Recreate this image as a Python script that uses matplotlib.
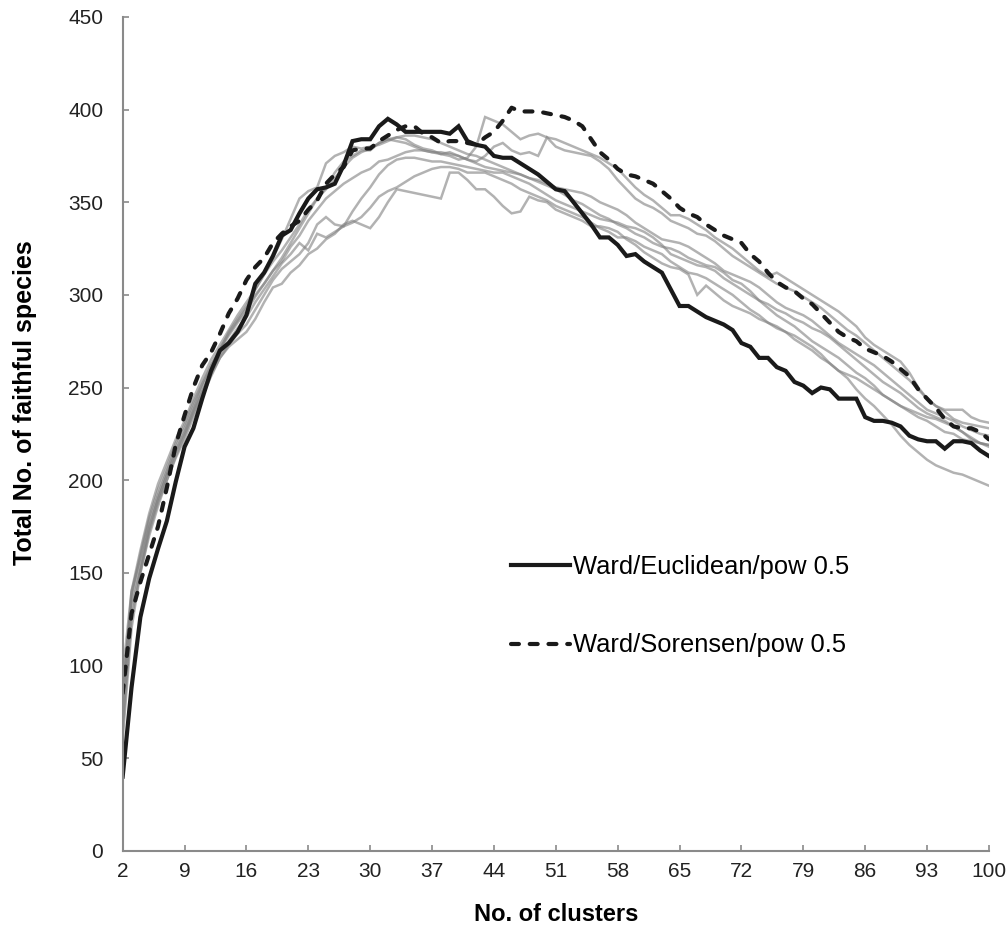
import numpy as np
import matplotlib
matplotlib.use("Agg")
import matplotlib.pyplot as plt

plt.rcParams['font.family'] = ['Liberation Sans', 'DejaVu Sans']

# categories: number of clusters
clusters = list(range(2, 101))

# Ward/Euclidean/pow 0.5 (solid black)
ward_euclid = [
    40, 88, 126, 147, 163, 178, 199, 218, 228, 244,
    259, 270, 274, 280, 289, 306, 312, 321, 332, 335,
    344, 352, 357, 358, 360, 370, 383, 384, 384, 391,
    395, 392, 388, 388, 388, 388, 388, 387, 391, 383,
    381, 380, 375, 374, 374, 371, 368, 365, 361, 357,
    356, 350, 344, 338, 331, 331, 327, 321, 322, 318,
    315, 312, 303, 294, 294, 291, 288, 286, 284, 281,
    274, 272, 266, 266, 261, 259, 253, 251, 247, 250,
    249, 244, 244, 244, 234, 232, 232, 231, 229, 224,
    222, 221, 221, 217, 221, 221, 220, 216, 213]

# Ward/Sorensen/pow 0.5 (dashed black)
ward_soren = [
    85, 128, 145, 160, 175, 196, 219, 235, 250, 262,
    269, 279, 290, 298, 308, 315, 320, 328, 333, 337,
    340, 346, 351, 360, 365, 369, 378, 379, 379, 383,
    386, 389, 391, 391, 387, 385, 382, 383, 383, 382,
    381, 385, 388, 394, 401, 399, 399, 399, 398, 397,
    396, 394, 391, 384, 377, 373, 368, 365, 364, 362,
    360, 356, 352, 347, 344, 342, 338, 335, 332, 330,
    328, 322, 318, 312, 307, 304, 302, 298, 295, 290,
    285, 280, 277, 275, 271, 269, 267, 264, 260, 256,
    249, 244, 239, 233, 229, 228, 228, 226, 222]

# other clustering combinations (grey)
grey_a = [
    95, 140, 158, 178, 192, 205, 218, 228, 240, 252,
    262, 270, 280, 287, 294, 303, 311, 320, 330, 341,
    352, 356, 358, 371, 375, 377, 380, 379, 380, 381,
    383, 385, 384, 381, 379, 378, 376, 375, 373, 374,
    380, 396, 394, 392, 388, 384, 386, 387, 385, 384,
    382, 380, 378, 376, 374, 371, 368, 363, 358, 354,
    351, 347, 343, 343, 341, 338, 335, 331, 328, 325,
    321, 317, 313, 310, 312, 309, 306, 303, 300, 297,
    294, 291, 287, 283, 277, 273, 270, 267, 264, 258,
    250, 244, 240, 238, 238, 238, 234, 232, 231]
grey_b = [
    88, 135, 155, 175, 190, 203, 216, 226, 238, 250,
    260, 270, 278, 285, 291, 299, 306, 313, 320, 328,
    336, 344, 352, 358, 366, 372, 375, 378, 378, 382,
    384, 383, 382, 380, 378, 377, 376, 377, 375, 373,
    372, 375, 380, 382, 378, 376, 377, 375, 385, 380,
    378, 377, 376, 375, 372, 368, 362, 357, 352, 349,
    347, 344, 340, 338, 336, 333, 332, 329, 325, 321,
    318, 315, 312, 309, 306, 304, 302, 299, 296, 293,
    289, 285, 281, 278, 274, 270, 266, 262, 258, 254,
    249, 244, 240, 237, 233, 231, 230, 229, 228]
grey_c = [
    60, 120, 150, 172, 188, 200, 212, 222, 234, 245,
    256, 266, 272, 276, 280, 287, 296, 304, 306, 312,
    316, 322, 325, 330, 333, 338, 340, 338, 336, 342,
    350, 357, 356, 355, 354, 353, 352, 366, 366, 362,
    357, 357, 353, 348, 344, 345, 353, 351, 350, 346,
    344, 342, 340, 337, 337, 336, 334, 330, 327, 323,
    320, 317, 315, 314, 311, 300, 305, 301, 297, 294,
    292, 290, 287, 285, 283, 280, 276, 273, 270, 266,
    263, 259, 257, 255, 252, 249, 246, 243, 240, 237,
    234, 232, 229, 226, 225, 222, 221, 220, 219]
grey_d = [
    70, 130, 152, 174, 190, 203, 215, 225, 237, 248,
    258, 268, 275, 282, 288, 296, 303, 310, 317, 322,
    328, 324, 333, 331, 334, 337, 339, 342, 347, 353,
    356, 358, 361, 364, 366, 368, 369, 369, 368, 366,
    366, 366, 364, 362, 360, 357, 355, 353, 351, 348,
    346, 344, 342, 339, 336, 334, 331, 331, 329, 326,
    324, 322, 318, 315, 312, 311, 309, 306, 303, 300,
    296, 292, 289, 285, 282, 280, 278, 275, 272, 268,
    263, 259, 255, 249, 244, 240, 235, 230, 224, 219,
    215, 211, 208, 206, 204, 203, 201, 199, 197]
grey_e = [
    78, 138, 160, 180, 195, 207, 220, 230, 242, 252,
    262, 271, 279, 286, 293, 300, 306, 313, 318, 326,
    332, 340, 346, 352, 356, 360, 363, 366, 368, 372,
    373, 375, 377, 378, 378, 377, 377, 376, 375, 373,
    371, 369, 368, 367, 366, 365, 363, 361, 359, 357,
    354, 351, 349, 346, 343, 341, 338, 336, 333, 331,
    328, 326, 325, 323, 320, 318, 316, 315, 312, 308,
    306, 302, 297, 293, 289, 286, 283, 279, 275, 272,
    269, 266, 262, 258, 255, 251, 246, 243, 240, 238,
    236, 234, 233, 231, 229, 226, 223, 220, 218]
grey_f = [
    65, 125, 150, 170, 186, 200, 213, 224, 236, 247,
    257, 266, 273, 279, 284, 292, 300, 308, 314, 318,
    322, 328, 338, 342, 338, 337, 345, 352, 358, 365,
    370, 373, 374, 374, 373, 372, 372, 371, 370, 369,
    368, 367, 366, 366, 364, 362, 360, 357, 354, 351,
    349, 347, 345, 343, 341, 340, 339, 337, 336, 334,
    331, 327, 322, 320, 318, 316, 315, 313, 309, 306,
    303, 300, 297, 295, 292, 290, 287, 285, 282, 280,
    277, 273, 269, 265, 261, 257, 253, 250, 247, 243,
    239, 236, 234, 232, 229, 226, 222, 220, 219]
grey_g = [
    82, 140, 162, 182, 198, 210, 222, 232, 244, 255,
    265, 273, 281, 289, 296, 303, 311, 318, 324, 331,
    338, 346, 352, 357, 363, 369, 374, 377, 379, 382,
    384, 385, 386, 386, 385, 384, 382, 380, 378, 376,
    375, 373, 371, 369, 367, 365, 363, 362, 360, 358,
    357, 356, 355, 353, 350, 348, 346, 343, 339, 336,
    333, 330, 329, 328, 326, 323, 320, 317, 313, 311,
    309, 307, 304, 300, 296, 293, 291, 289, 286, 282,
    278, 274, 271, 268, 265, 262, 258, 254, 250, 246,
    242, 238, 236, 234, 232, 229, 227, 225, 224]

greys = [grey_a, grey_b, grey_c, grey_d, grey_e, grey_f, grey_g]

fig = plt.figure(figsize=(10.08, 9.27), dpi=100)
ax = fig.add_axes([0.1217, 0.0823, 0.8594, 0.8994])

for g in greys:
    ax.plot(clusters, g, color='#808080', alpha=0.6, lw=1.8, solid_joinstyle='miter')

ax.plot(clusters, ward_euclid, color='#1a1a1a', lw=3.0, solid_joinstyle='miter',
        label='Ward/Euclidean/pow 0.5')
ax.plot(clusters, ward_soren, color='#1a1a1a', lw=3.0, linestyle=(0, (1.9, 2.6)),
        dash_capstyle='round', label='Ward/Sorensen/pow 0.5')

ax.set_xlim(2, 100)
ax.set_ylim(0, 450)
ax.set_xticks(range(2, 101, 7))
ax.set_yticks(range(0, 451, 50))

for side in ['top', 'right']:
    ax.spines[side].set_visible(False)
for side in ['left', 'bottom']:
    ax.spines[side].set_color('#8a8a8a')
    ax.spines[side].set_linewidth(1.5)

ax.tick_params(axis='both', direction='in', length=4, width=1.2, color='#8a8a8a',
               labelsize=15, labelcolor='#222222')
ax.tick_params(axis='y', pad=14)
ax.tick_params(axis='x', pad=8)

ax.set_xlabel('No. of clusters', fontsize=17, fontweight='bold', labelpad=16)
ax.set_ylabel('Total No. of faithful species', fontsize=18, fontweight='bold')
ax.yaxis.set_label_coords(-0.099, 0.538)

ax.legend(loc='center left', bbox_to_anchor=(0.434, 0.2935), frameon=False,
          fontsize=18.4, handlelength=2.3, handletextpad=0.12, labelspacing=2.15,
          borderpad=0)

fig.savefig('out.png', dpi=100)
